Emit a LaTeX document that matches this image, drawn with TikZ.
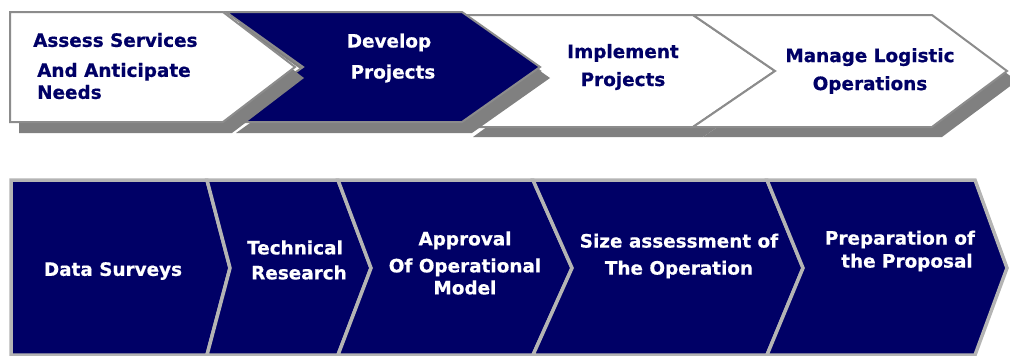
\documentclass[tikz,border=0pt]{standalone}
\usepackage{fontspec}
\setmainfont{DejaVu Sans}[BoldFeatures={FakeBold=0.6}]
\definecolor{navy}{HTML}{000066}
\definecolor{shadowgray}{HTML}{808080}
\definecolor{edgegray}{HTML}{8C8C8C}
\definecolor{lightedge}{HTML}{B4B4B4}
\tikzset{
  shadowpath/.style={fill=shadowgray, draw=none},
  whitearrow/.style={fill=white, draw=edgegray, line width=2pt, line join=miter},
  navyarrow/.style={fill=navy, draw=edgegray, line width=2pt, line join=miter},
  lowarrow/.style={fill=navy, draw=lightedge, line width=3.5pt, line join=miter},
  lbl/.style={font=\fontsize{18.4}{#1}\selectfont\bfseries, align=center, inner sep=0pt},
  lbl/.default=27,
  darktext/.style={text=navy},
  lighttext/.style={text=white}
}
\begin{document}
\begin{tikzpicture}[x=1pt,y=-1pt]
\useasboundingbox (0,0) rectangle (1010,356);
% ---- top row, group B (shapes 3 and 4)
\fill[shadowpath] (473,25) -- (703,25) -- (785,81) -- (703,137) -- (473,137) -- (550,81) -- cycle;
\fill[shadowpath] (703,25) -- (942,25) -- (1017,81) -- (942,137) -- (703,137) -- (785,81) -- cycle;
\draw[whitearrow] (463,15) -- (693,15) -- (775,71) -- (693,127) -- (463,127) -- (540,71) -- cycle;
\draw[whitearrow] (693,15) -- (932,15) -- (1007,71) -- (932,127) -- (693,127) -- (775,71) -- cycle;
% ---- top row, group A (shapes 1 and 2)
\fill[shadowpath] (236,23) -- (472,23) -- (550,78) -- (472,133) -- (236,133) -- (313,78) -- cycle;
\draw[navyarrow] (226,12) -- (462,12) -- (540,67) -- (462,122) -- (226,122) -- (303,67) -- cycle;
\fill[shadowpath] (19,23) -- (232,23) -- (304,78) -- (232,133) -- (19,133) -- cycle;
\draw[whitearrow] (10,12) -- (223,12) -- (295,67) -- (223,122) -- (10,122) -- cycle;
% ---- bottom row
\draw[lowarrow] (11,180) -- (207,180) -- (230,268) -- (207,355) -- (11,355) -- cycle;
\draw[lowarrow] (207,180) -- (338,180) -- (371,268) -- (338,355) -- (207,355) -- (230,268) -- cycle;
\draw[lowarrow] (338,180) -- (533,180) -- (572,268) -- (533,355) -- (338,355) -- (371,268) -- cycle;
\draw[lowarrow] (533,180) -- (767,180) -- (803,268) -- (767,355) -- (533,355) -- (572,268) -- cycle;
\draw[lowarrow] (767,180) -- (975,180) -- (1007,268) -- (975,355) -- (767,355) -- (803,268) -- cycle;
% ---- labels, top row
\node[lbl=22, darktext, align=left, anchor=west] (t1) at (33,66) {Assess Services\\[8pt]\hspace*{4pt}And Anticipate\\\hspace*{4pt}Needs};
\node[lbl=31, lighttext] (t2) at (389,58) {Develop\\\hspace*{8pt}Projects};
\node[lbl=28, darktext] (t3) at (623,67) {Implement\\Projects};
\node[lbl=28, darktext] (t4) at (870,71) {Manage Logistic\\Operations};
% ---- labels, bottom row
\node[lbl, lighttext] (b1) at (113,271) {Data Surveys};
\node[lbl=25, lighttext] (b2) at (295,260) {Technical\\\hspace*{8pt}Research};
\node[lbl=22, lighttext] (b3) at (465,263) {Approval\\[5pt]Of Operational\\Model};
\node[lbl=27, lighttext] (b4) at (679,256) {Size assessment of\\The Operation};
\node[lbl=23, lighttext] (b5) at (900,251) {Preparation of\\\hspace*{14pt}the Proposal};
\end{tikzpicture}
\end{document}
